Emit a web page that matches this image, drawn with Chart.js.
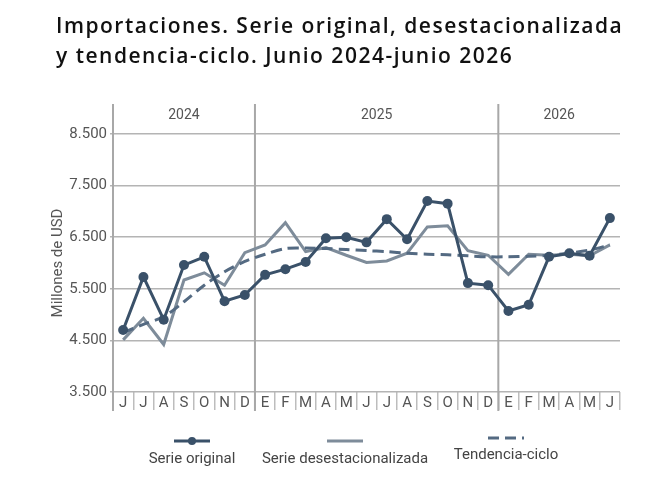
<!DOCTYPE html>
<html>
<head>
<meta charset="utf-8">
<script src="https://cdn.jsdelivr.net/npm/chart.js@4"></script>
<style>
  html, body { margin: 0; padding: 0; background: #fff; }
  #wrap { width: 660px; height: 478px; position: relative; }
</style>
</head>
<body>
<div id="wrap"><canvas id="grafico" width="660" height="478"></canvas></div>
<script>
// datos (millones de USD)
var meses = ["J","J","A","S","O","N","D","E","F","M","A","M","J","J","A","S","O","N","D","E","F","M","A","M","J"];
var anios = ["2024","2025","2026"];
var mesesPorAnio = [7, 12, 6];
var serieOriginal = [4700,5730,4900,5960,6120,5260,5380,5770,5880,6020,6480,6500,6400,6850,6460,7200,7150,5610,5570,5070,5190,6120,6190,6140,6870];
var serieDesest = [4510,4930,4420,5670,5810,5570,6200,6350,6780,6220,6300,6150,6010,6040,6190,6700,6720,6240,6150,5780,6170,6150,6170,6140,6350];
var tendencia = [4650,4810,4960,5250,5570,5830,6030,6170,6280,6290,6280,6260,6240,6220,6190,6170,6160,6140,6120,6120,6130,6150,6190,6250,6350];
var yTicks = [3500,4500,5500,6500,7500,8500];

var fuenteNarrow = "'Liberation Sans Narrow', 'Roboto', sans-serif";
var colorTexto = "#555";
var colorGrid = "#b4b4b4";

function formatoMiles(v) {
    return String(v).replace(/\B(?=(\d{3})+(?!\d))/g, ".");
}

var decoracion = {
    id: "decoracion",
    beforeDatasetsDraw: function (chart) {
        var ctx = chart.ctx;
        var area = chart.chartArea;
        var x = chart.scales.x;
        var top = area.top - 30;
        var bottom = area.bottom + 19;
        ctx.save();
        // eje izquierdo
        ctx.strokeStyle = "#a8a8a8";
        ctx.lineWidth = 2;
        ctx.beginPath();
        ctx.moveTo(area.left, top);
        ctx.lineTo(area.left, bottom);
        ctx.stroke();
        // separadores de anio y etiquetas
        var idx = 0;
        ctx.fillStyle = colorTexto;
        ctx.font = "14px " + fuenteNarrow;
        ctx.textAlign = "center";
        ctx.textBaseline = "middle";
        for (var i = 0; i < anios.length; i++) {
            var ini = idx === 0 ? area.left : (x.getPixelForValue(idx - 1) + x.getPixelForValue(idx)) / 2;
            idx += mesesPorAnio[i];
            var fin = idx >= meses.length ? area.right : (x.getPixelForValue(idx - 1) + x.getPixelForValue(idx)) / 2;
            ctx.fillText(anios[i], (ini + fin) / 2, area.top - 19);
            if (idx < meses.length) {
                ctx.beginPath();
                ctx.moveTo(fin, top);
                ctx.lineTo(fin, bottom);
                ctx.stroke();
            }
        }
        // titulo del eje y
        ctx.translate(58, (area.top + area.bottom) / 2);
        ctx.rotate(-Math.PI / 2);
        ctx.font = "15px " + fuenteNarrow;
        ctx.fillText("Millones de USD", 0, 0);
        ctx.restore();
    },
    afterDraw: function (chart) {
        var ctx = chart.ctx;
        ctx.save();
        // titulo
        ctx.fillStyle = "#111";
        ctx.font = "600 21px 'Open Sans', sans-serif";
        ctx.letterSpacing = "1.5px";
        ctx.textAlign = "left";
        ctx.textBaseline = "alphabetic";
        ctx.fillText("Importaciones. Serie original, desestacionalizada", 56, 33);
        ctx.fillText("y tendencia-ciclo. Junio 2024-junio 2026", 56, 63);
        ctx.letterSpacing = "0px";

        // leyenda
        var items = [
            { ds: chart.data.datasets[0], cx: 192, ly: 441, ty: 459 },
            { ds: chart.data.datasets[1], cx: 345, ly: 441, ty: 459 },
            { ds: chart.data.datasets[2], cx: 506, ly: 438, ty: 455 }
        ];
        items.forEach(function (it) {
            ctx.strokeStyle = it.ds.borderColor;
            ctx.lineWidth = 3;
            ctx.setLineDash(it.ds.borderDash || []);
            ctx.beginPath();
            ctx.moveTo(it.cx - 18, it.ly);
            ctx.lineTo(it.cx + 18, it.ly);
            ctx.stroke();
            ctx.setLineDash([]);
            if (it.ds.pointRadius > 0) {
                ctx.fillStyle = it.ds.borderColor;
                ctx.beginPath();
                ctx.arc(it.cx, it.ly, 4, 0, Math.PI * 2);
                ctx.fill();
            }
            ctx.fillStyle = "#444";
            ctx.font = "15px " + fuenteNarrow;
            ctx.textAlign = "center";
            ctx.textBaseline = "middle";
            ctx.fillText(it.ds.label, it.cx, it.ty);
        });
        ctx.restore();
    }
};

var ctx1 = document.getElementById("grafico").getContext("2d");
new Chart(ctx1, {
    type: "line",
    data: {
        labels: meses,
        datasets: [
            {
                label: "Serie original",
                data: serieOriginal,
                borderColor: "#3a5169",
                backgroundColor: "#3a5169",
                borderWidth: 3,
                pointRadius: 5,
                pointBorderWidth: 0,
                tension: 0,
                order: 1
            },
            {
                label: "Serie desestacionalizada",
                data: serieDesest,
                borderColor: "#7e8c9a",
                backgroundColor: "#7e8c9a",
                borderWidth: 3,
                pointRadius: 0,
                tension: 0,
                order: 3
            },
            {
                label: "Tendencia-ciclo",
                data: tendencia,
                borderColor: "#546a82",
                backgroundColor: "#546a82",
                borderWidth: 3,
                borderDash: [11, 6],
                pointRadius: 0,
                tension: 0.3,
                order: 2
            }
        ]
    },
    options: {
        responsive: false,
        animation: false,
        layout: { padding: { top: 134, right: 40, bottom: 68, left: 0 } },
        plugins: {
            legend: { display: false },
            title: { display: false },
            tooltip: { enabled: false }
        },
        scales: {
            x: {
                offset: true,
                afterFit: function (axis) { axis.height = 18; },
                border: { display: false },
                grid: {
                    offset: true,
                    drawOnChartArea: false,
                    drawTicks: true,
                    tickLength: 18,
                    color: "#bdbdbd",
                    lineWidth: 1.5
                },
                ticks: {
                    color: colorTexto,
                    font: { family: fuenteNarrow, size: 15 },
                    padding: -16,
                    maxRotation: 0,
                    autoSkip: false
                }
            },
            y: {
                min: 3500,
                max: 8500,
                afterFit: function (axis) { axis.width = 113; },
                afterBuildTicks: function (axis) {
                    axis.ticks = yTicks.map(function (v) { return { value: v }; });
                },
                border: { display: false },
                grid: {
                    color: colorGrid,
                    lineWidth: 1.5,
                    drawTicks: true,
                    tickLength: 3
                },
                ticks: {
                    color: colorTexto,
                    font: { family: fuenteNarrow, size: 15 },
                    padding: 3,
                    callback: function (v) { return formatoMiles(v); }
                }
            }
        }
    },
    plugins: [decoracion]
});
</script>
</body>
</html>
